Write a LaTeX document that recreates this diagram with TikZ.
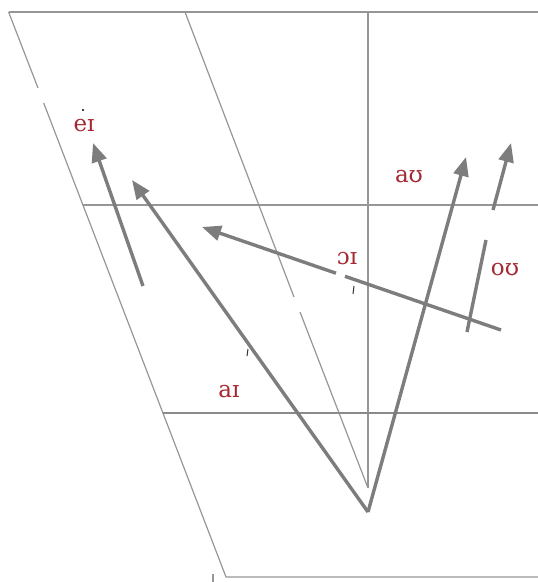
\documentclass[tikz,border=0pt]{standalone}
\usepackage{fontspec}
\setmainfont{DejaVu Serif}
\usetikzlibrary{arrows.meta}
\definecolor{lbl}{RGB}{165,40,50}
\definecolor{frame}{RGB}{150,150,150}
\definecolor{arr}{RGB}{125,125,125}
\tikzset{
  frameline/.style={draw=frame,line width=1.2pt},
  darkline/.style={draw=arr!90,line width=1.4pt},
  arrowline/.style={draw=arr,line width=3.4pt,-{Triangle[length=19pt,width=15pt]}},
  plainarrow/.style={draw=arr,line width=3.4pt},
  vlabel/.style={text=lbl,font=\fontsize{23}{23}\selectfont,inner sep=0pt},
  tick/.style={draw=black!80,line width=1pt}
}
\begin{document}
\begin{tikzpicture}[x=1pt,y=-1pt]
\useasboundingbox (0,0) rectangle (538,582);
% frame coordinates
\coordinate (TL) at (8.6,12);
\coordinate (TR) at (538,12);
\coordinate (L1a) at (38,88);
\coordinate (L1b) at (43.7,103);
\coordinate (BL) at (226,577);
\coordinate (BR) at (538,577);
\coordinate (S1) at (185,12);
\coordinate (S1a) at (294,297);
\coordinate (S1b) at (300,312);
\coordinate (VT) at (368,12);
\coordinate (VB) at (368,488);
\coordinate (H1L) at (83,205);
\coordinate (H1R) at (538,205);
\coordinate (H2L) at (163,413);
\coordinate (H2R) at (538,413);
% frame
\draw[frameline] (TL) -- (TR);
\draw[frameline] (TL) -- (L1a);
\draw[frameline] (L1b) -- (BL) -- (BR);
\draw[frameline] (S1) -- (S1a);
\draw[frameline] (S1b) -- (VB);
\draw[frameline] (VT) -- (VB);
\draw[frameline] (H1L) -- (H1R);
\draw[darkline] (H2L) -- (H2R);
% arrows
\coordinate (V) at (368,512);
\coordinate (aiT) at (132,180);
\coordinate (auT) at (466,157);
\coordinate (eiS) at (143,286);
\coordinate (eiT) at (93,143);
\coordinate (oiS) at (501,330);
\coordinate (oiA) at (345,276.3);
\coordinate (oiB) at (336,273.2);
\coordinate (oiT) at (202,227);
\coordinate (ouS) at (467,332);
\coordinate (ouA) at (486,240);
\coordinate (ouB) at (493,210);
\coordinate (ouT) at (511,143);
\draw[arrowline] (V) -- (aiT);
\draw[arrowline] (V) -- (auT);
\draw[arrowline] (eiS) -- (eiT);
\draw[plainarrow] (oiS) -- (oiA);
\draw[arrowline] (oiB) -- (oiT);
\draw[plainarrow] (ouS) -- (ouA);
\draw[arrowline] (ouB) -- (ouT);
% labels
\node[vlabel] (ei) at (84,126) {eɪ};
\node[vlabel] (au) at (409,177) {aʊ};
\node[vlabel] (oi) at (347,259) {ɔɪ};
\node[vlabel] (ou) at (505,270) {oʊ};
\node[vlabel] (ai) at (229,392) {aɪ};
% small marks
\fill[black] (83,110) circle (1.2pt);
\draw[tick] (354,286) -- (353,294);
\draw[tick] (248,349) -- (247,356);
\draw[frameline] (213,574) -- (213,582);
\end{tikzpicture}
\end{document}
